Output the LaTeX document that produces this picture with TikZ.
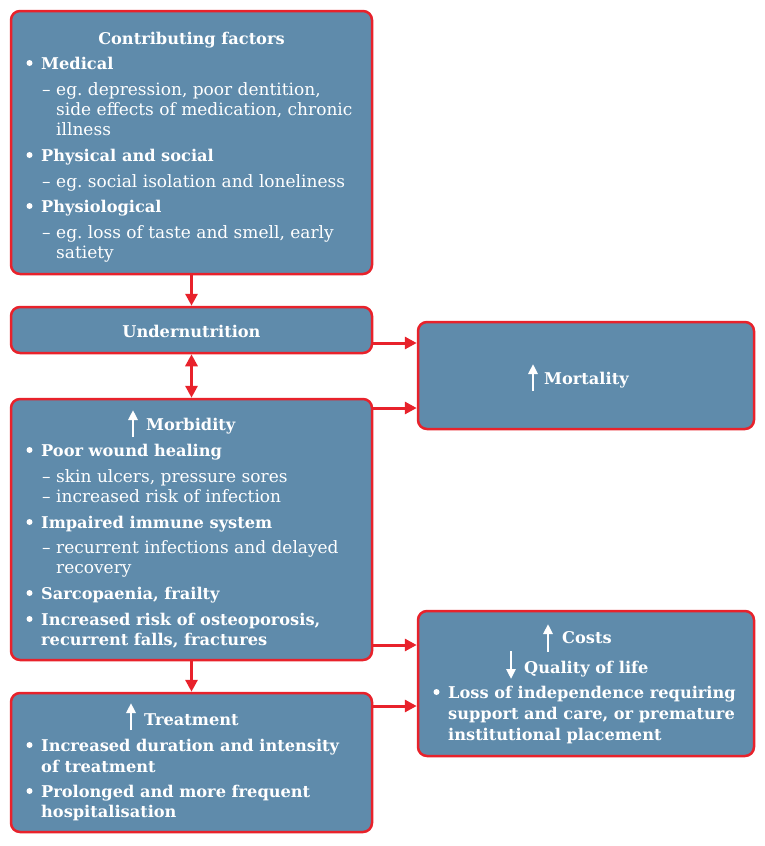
\documentclass[tikz,border=0pt]{standalone}
\usepackage{fontspec}
\setmainfont{DejaVu Serif}
\usetikzlibrary{arrows.meta}
\definecolor{boxfill}{HTML}{5F8BAB}
\definecolor{boxline}{HTML}{E8222B}
\frenchspacing
\tikzset{
  box/.style={draw=boxline, line width=2.5pt, fill=boxfill, rounded corners=9pt, inner sep=0pt},
  txt/.style={text=white, font=\fontsize{17}{19}\selectfont, inner sep=0pt, anchor=base west},
  btxt/.style={text=white, font=\fontsize{16.2}{19}\selectfont\bfseries, inner sep=0pt, anchor=base west},
  bul/.style={text=white, inner sep=0pt, circle, fill=white, minimum size=6pt},
  hd/.style={btxt, anchor=base},
  conn/.style={draw=boxline, line width=3pt, -{Triangle[length=12pt,width=12pt]}},
  dconn/.style={draw=boxline, line width=3pt, {Triangle[length=12pt,width=12pt]}-{Triangle[length=12pt,width=12pt]}},
  uparr/.style={draw=white, line width=2.6pt, -{Triangle[length=10pt,width=9pt]}},
}
\newcommand{\Bl}[4]{\node[bul] (#1b) at (#2+3.5,#3-6) {}; \node[btxt] (#1) at (#2+15,#3) {#4};}
\newcommand{\Bc}[4]{\node[btxt] (#1) at (#2,#3) {#4};}
\newcommand{\Dl}[4]{\node[txt] (#1d) at (#2,#3) {–}; \node[txt] (#1) at (#2+14,#3) {#4};}
\newcommand{\Dc}[4]{\node[txt] (#1) at (#2,#3) {#4};}
\begin{document}
\begin{tikzpicture}[x=1pt,y=-1pt]
\useasboundingbox (0,0) rectangle (765,846);
% boxes
\node[box, minimum width=361pt, minimum height=263pt] (cf) at (191.5,142.5) {};
\node[box, minimum width=361pt, minimum height=46pt] (un) at (191.5,330) {};
\node[box, minimum width=336pt, minimum height=107pt] (mo) at (586,375.5) {};
\node[box, minimum width=361pt, minimum height=261pt] (mb) at (191.5,529.5) {};
\node[box, minimum width=361pt, minimum height=139pt] (tr) at (191.5,762.5) {};
\node[box, minimum width=336pt, minimum height=145pt] (co) at (586,683.5) {};
% box 1
\node[hd] (cfh) at (191.5,44) {Contributing factors};
\Bl{a1}{26}{69}{Medical}
\Dl{a2}{42}{95}{eg. depression, poor dentition,}
\Dc{a3}{56}{115}{side effects of medication, chronic}
\Dc{a4}{56}{135}{illness}
\Bl{a5}{26}{161}{Physical and social}
\Dl{a6}{42}{187}{eg. social isolation and loneliness}
\Bl{a7}{26}{212}{Physiological}
\Dl{a8}{42}{238}{eg. loss of taste and smell, early}
\Dc{a9}{56}{258}{satiety}
% box 2
\node[hd] (unh) at (191.5,337) {Undernutrition};
% mortality
\node[btxt] (moh) at (544,384) {Mortality};
\coordinate (moa1) at (533,391);
\coordinate (moa2) at (533,364);
\draw[uparr] (moa1) -- (moa2);
% morbidity
\node[btxt] (mbh) at (146,430) {Morbidity};
\coordinate (mba1) at (133,437);
\coordinate (mba2) at (133,410);
\draw[uparr] (mba1) -- (mba2);
\Bl{b1}{26}{456}{Poor wound healing}
\Dl{b2}{42}{482}{skin ulcers, pressure sores}
\Dl{b3}{42}{502}{increased risk of infection}
\Bl{b4}{26}{528}{Impaired immune system}
\Dl{b5}{42}{553}{recurrent infections and delayed}
\Dc{b6}{56}{573}{recovery}
\Bl{b7}{26}{599}{Sarcopaenia, frailty}
\Bl{b8}{26}{625}{Increased risk of osteoporosis,}
\Bc{b9}{41}{645}{recurrent falls, fractures}
% treatment
\node[btxt] (trh) at (144,725) {Treatment};
\coordinate (tra1) at (131,730);
\coordinate (tra2) at (131,703);
\draw[uparr] (tra1) -- (tra2);
\Bl{c1}{26}{751}{Increased duration and intensity}
\Bc{c2}{41}{772}{of treatment}
\Bl{c3}{26}{797}{Prolonged and more frequent}
\Bc{c4}{41}{817}{hospitalisation}
% costs
\node[btxt] (coh) at (562,643) {Costs};
\coordinate (coa1) at (548,652);
\coordinate (coa2) at (548,624);
\draw[uparr] (coa1) -- (coa2);
\node[btxt] (qlh) at (524,673) {Quality of life};
\coordinate (qla1) at (511,651);
\coordinate (qla2) at (511,679);
\draw[uparr] (qla1) -- (qla2);
\Bl{d1}{433}{698}{Loss of independence requiring}
\Bc{d2}{448}{719}{support and care, or premature}
\Bc{d3}{448}{740}{institutional placement}
% connectors
\draw[conn] (cf.south) -- (un.north);
\draw[dconn] (un.south) -- (mb.north);
\draw[conn] (un.east |- 0,343) -- (mo.west |- 0,343);
\draw[conn] (mb.east |- 0,408) -- (mo.west |- 0,408);
\draw[conn] (mb.east |- 0,645) -- (co.west |- 0,645);
\draw[conn] (mb.south) -- (tr.north);
\draw[conn] (tr.east |- 0,706) -- (co.west |- 0,706);
\end{tikzpicture}
\end{document}
